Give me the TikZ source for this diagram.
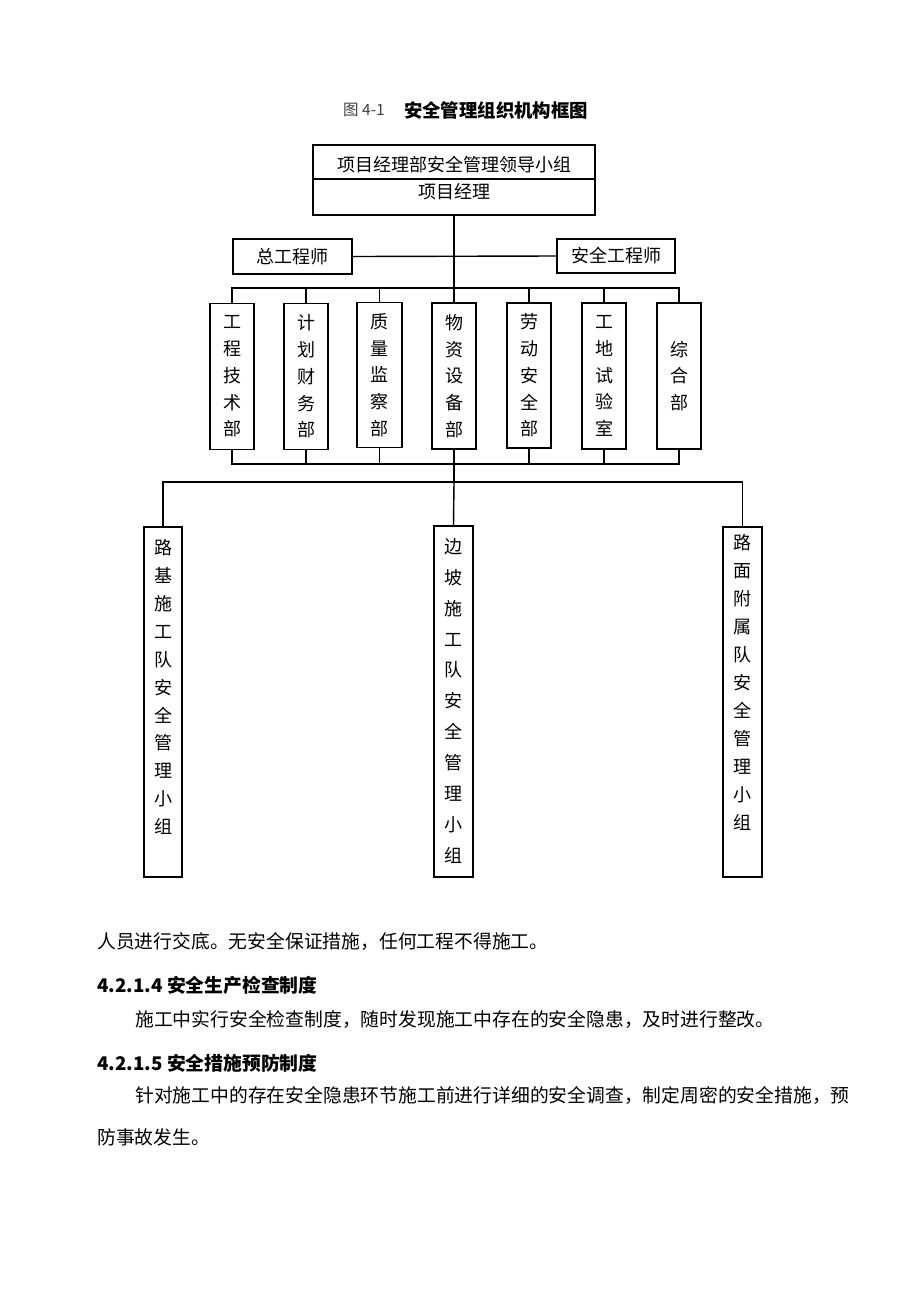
\documentclass[tikz,border=0pt]{standalone}
\usepackage{fontspec}
\newfontfamily\cjk{Noto Sans CJK SC}
\begin{document}
\begin{tikzpicture}[x=1pt,y=-1pt,
  box/.style={draw, line width=1.4pt, inner sep=0pt},
  conn/.style={line width=1.4pt},
  txt/.style={inner sep=0pt, font=\cjk\fontsize{18}{22}\selectfont},
  vdept/.style={inner sep=0pt, align=center, font=\cjk\fontsize{18}{26.75}\selectfont},
  para/.style={inner sep=0pt, anchor=west, font=\cjk\fontsize{18.8}{22}\selectfont},
  head/.style={inner sep=0pt, anchor=west, font=\cjk\bfseries\fontsize{18.8}{22}\selectfont}]
\fill[white] (0,0) rectangle (920,1302);
% title
\node[txt, font=\cjk\fontsize{15.5}{20}\selectfont, text=black!75] (tnum) at (364,110) {图 4-1};
\node[txt, font=\cjk\bfseries\fontsize{18.4}{22}\selectfont] (ttl) at (496,110) {安全管理组织机构框图};
% top box
\node[box, minimum width=282, minimum height=70] (top) at (454,180) {};
\draw[conn] (top.west |- 0,179) -- (top.east |- 0,179);
\node[txt] (top1) at (454,165) {项目经理部安全管理领导小组};
\node[txt] (top2) at (454,192) {项目经理};
% engineers
\node[box, minimum width=119, minimum height=35, txt] (zg) at (292.5,256.5) {总工程师};
\node[box, minimum width=118, minimum height=34, txt] (ag) at (616,256) {安全工程师};
\draw[conn] (zg.east) -- (ag.west);
% departments
\node[box, minimum width=44, minimum height=146, vdept] (d1) at (232,376.5) {工\\程\\技\\术\\部};
\node[box, minimum width=44, minimum height=146, vdept] (d2) at (306,376.5) {计\\划\\财\\务\\部};
\node[box, minimum width=45, minimum height=145, vdept] (d3) at (379.5,375) {质\\量\\监\\察\\部};
\node[box, minimum width=44, minimum height=146, vdept] (d4) at (454,376) {物\\资\\设\\备\\部};
\node[box, minimum width=44, minimum height=145, vdept] (d5) at (529,375.5) {劳\\动\\安\\全\\部};
\node[box, minimum width=44, minimum height=146, vdept] (d6) at (604,376) {工\\地\\试\\验\\室};
\node[box, minimum width=44, minimum height=146, vdept] (d7) at (679,376) {综\\合\\部};
\coordinate (busU) at (454,288);
\coordinate (busL) at (454,464);
\coordinate (busB) at (454,482);
\draw[conn] (top.south) -- (d4.north);
\draw[conn] (d1.north) -- (d1.north |- busU) -- (d7.north |- busU) -- (d7.north);
\draw[conn] (d1.south) -- (d1.south |- busL) -- (d7.south |- busL) -- (d7.south);
\foreach \d in {d2,d3,d5,d6}{
  \draw[conn] (\d.north) -- (\d.north |- busU);
  \draw[conn] (\d.south) -- (\d.south |- busL);
}
\draw[conn] (d4.south) -- (busB);
% bottom teams
\node[box, minimum width=38, minimum height=350] (b1) at (163,702) {};
\node[box, minimum width=39, minimum height=351] (b2) at (453.5,701.5) {};
\node[box, minimum width=39, minimum height=350] (b3) at (742.5,702) {};
\node[vdept, font=\cjk\fontsize{18}{27.9}\selectfont, anchor=north, yshift=-13pt] (t1) at (b1.north) {路\\基\\施\\工\\队\\安\\全\\管\\理\\小\\组};
\node[vdept, font=\cjk\fontsize{18}{30.9}\selectfont, anchor=north, yshift=-13pt] (t2) at (b2.north) {边\\坡\\施\\工\\队\\安\\全\\管\\理\\小\\组};
\node[vdept, font=\cjk\fontsize{18}{28}\selectfont, anchor=north, yshift=-8pt] (t3) at (b3.north) {路\\面\\附\\属\\队\\安\\全\\管\\理\\小\\组};
\draw[conn] (b1.north) -- (b1.north |- busB) -- (b3.north |- busB) -- (b3.north);
\draw[conn] (busB) -- (b2.north);
% text below
\node[para] (p1) at (97,941) {人员进行交底。无安全保证措施，任何工程不得施工。};
\node[head] (h1) at (97,985) {4.2.1.4 安全生产检查制度};
\node[para] (p2) at (135,1019) {施工中实行安全检查制度，随时发现施工中存在的安全隐患，及时进行整改。};
\node[head] (h2) at (97,1063) {4.2.1.5 安全措施预防制度};
\node[para] (p3) at (135,1095) {针对施工中的存在安全隐患环节施工前进行详细的安全调查，制定周密的安全措施，预};
\node[para] (p4) at (97,1137) {防事故发生。};
\end{tikzpicture}
\end{document}
